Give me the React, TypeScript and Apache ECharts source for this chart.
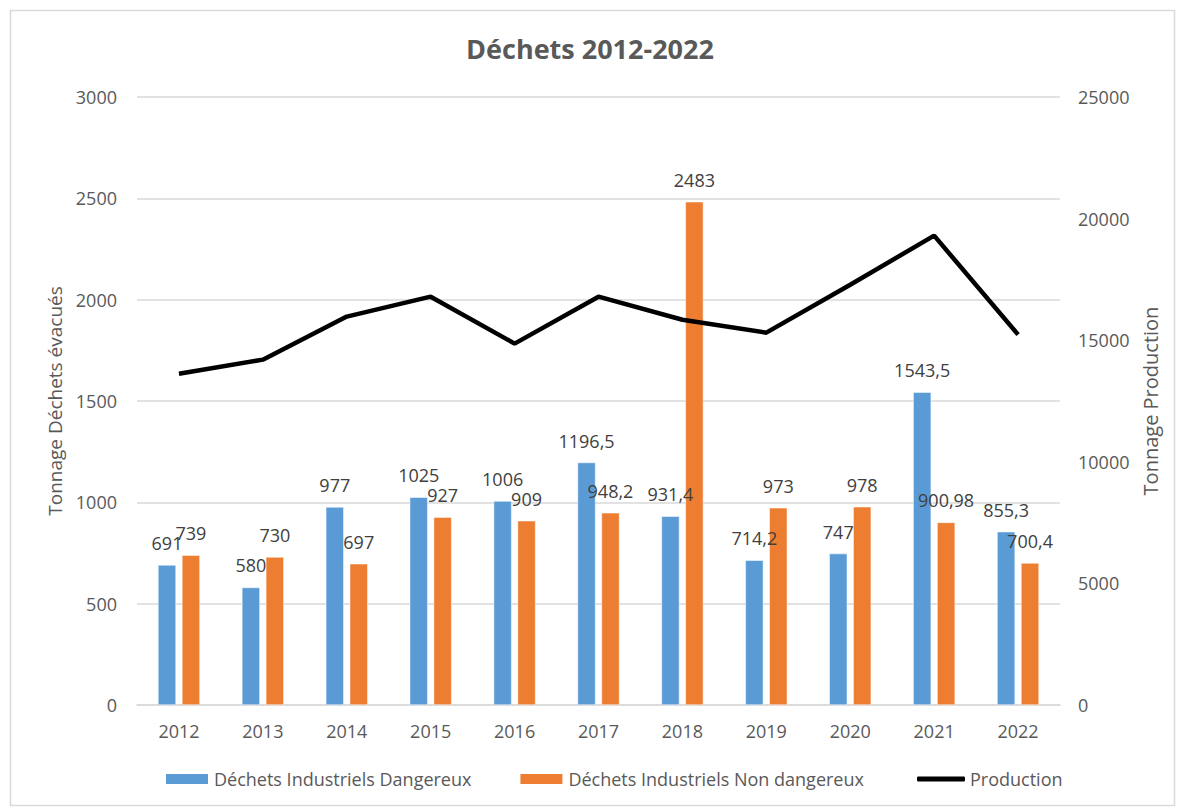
import React, { useEffect, useRef } from "react";
import * as echarts from "echarts";

const years = ["2012", "2013", "2014", "2015", "2016", "2017", "2018", "2019", "2020", "2021", "2022"];
const dangereux = [691, 580, 977, 1025, 1006, 1196.5, 931.4, 714.2, 747, 1543.5, 855.3];
const nonDangereux = [739, 730, 697, 927, 909, 948.2, 2483, 973, 978, 900.98, 700.4];
const production = [13620, 14200, 15970, 16790, 14860, 16790, 15840, 15310, 17280, 19300, 15230];

const FONT = "'Open Sans', 'Noto Sans', sans-serif";
const GREY = "#595959";

export default function App() {
  const ref = useRef<HTMLDivElement>(null);
  useEffect(() => {
    if (!ref.current) return;
    const chart = echarts.init(ref.current, null, { renderer: "svg" });
    const labelStyle = {
      show: true,
      position: "top" as const,
      distance: 12,
      color: "#404040",
      fontSize: 18,
      fontFamily: FONT,
      lineHeight: 20,
      formatter: (p: any) => String(p.value).replace(".", ","),
    };
    const plain = (v: number) => String(v);
    chart.setOption({
      animation: false,
      backgroundColor: "#ffffff",
      textStyle: { fontFamily: FONT },
      graphic: [
        {
          type: "rect",
          shape: { x: 10.5, y: 10.5, width: 1164, height: 795 },
          style: { fill: "none", stroke: "#D9D9D9", lineWidth: 1.5 },
          silent: true,
        },
      ],
      title: {
        text: "Déchets 2012-2022",
        left: "center",
        top: 30,
        textStyle: { fontSize: 27, fontWeight: "bold", color: GREY, fontFamily: FONT },
      },
      grid: { left: 137, right: 120, top: 97, bottom: 102 },
      legend: [
        {
          left: 159,
          top: 765,
          itemWidth: 44,
          itemHeight: 12,
          itemGap: 47,
          icon: "rect",
          textStyle: { fontSize: 18, color: GREY, fontFamily: FONT },
          data: ["Déchets Industriels Dangereux", "Déchets Industriels Non dangereux"],
        },
        {
          left: 912,
          top: 765,
          itemWidth: 48,
          itemHeight: 5,
          icon: "roundRect",
          textStyle: { fontSize: 18, color: GREY, fontFamily: FONT },
          itemStyle: { color: "#000000" },
          data: ["Production"],
        },
      ],
      xAxis: {
        type: "category",
        data: years,
        axisLine: { lineStyle: { color: "#D9D9D9", width: 1.5 } },
        axisTick: { show: false },
        axisLabel: { color: GREY, fontSize: 18, fontFamily: FONT, margin: 17 },
      },
      yAxis: [
        {
          type: "value",
          min: 0,
          max: 3000,
          interval: 500,
          name: "Tonnage Déchets évacués",
          nameLocation: "middle",
          nameGap: 72,
          nameTextStyle: { color: GREY, fontSize: 19, fontFamily: FONT },
          axisLine: { show: false },
          axisTick: { show: false },
          axisLabel: { color: GREY, fontSize: 18, fontFamily: FONT, margin: 20, formatter: plain },
          splitLine: { lineStyle: { color: "#D9D9D9", width: 1.5 } },
        },
        {
          type: "value",
          min: 0,
          max: 25000,
          interval: 5000,
          name: "Tonnage Production",
          nameLocation: "middle",
          nameGap: 80,
          nameTextStyle: { color: GREY, fontSize: 20, fontFamily: FONT },
          axisLine: { show: false },
          axisTick: { show: false },
          axisLabel: { color: GREY, fontSize: 18, fontFamily: FONT, margin: 18, formatter: plain },
          splitLine: { show: false },
        },
      ],
      series: [
        {
          name: "Déchets Industriels Dangereux",
          type: "bar",
          data: dangereux,
          barWidth: 18,
          barGap: "33%",
          itemStyle: { color: "#5B9BD5", borderColor: "#ffffff", borderWidth: 0.5 },
          label: labelStyle,
        },
        {
          name: "Déchets Industriels Non dangereux",
          type: "bar",
          data: nonDangereux,
          barWidth: 18,
          barGap: "33%",
          itemStyle: { color: "#ED7D31", borderColor: "#ffffff", borderWidth: 0.5 },
          label: labelStyle,
        },
        {
          name: "Production",
          type: "line",
          yAxisIndex: 1,
          data: production,
          symbol: "none",
          lineStyle: { color: "#000000", width: 4.5 },
          itemStyle: { color: "#000000" },
          z: 5,
        },
      ],
    });
    return () => chart.dispose();
  }, []);
  return (
    <div
      ref={ref}
      style={{ position: "absolute", left: 0, top: 0, width: 1180, height: 807 }}
    />
  );
}
